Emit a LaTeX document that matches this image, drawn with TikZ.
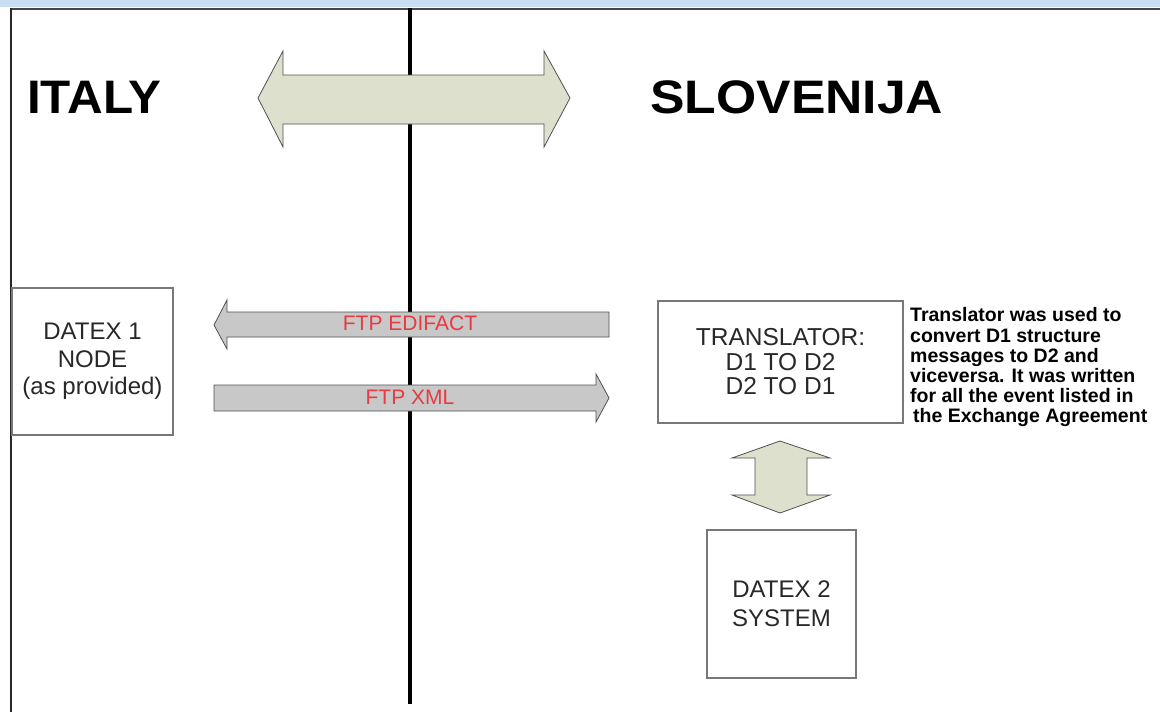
\documentclass[tikz,border=0pt]{standalone}
\usepackage{fontspec}
\setmainfont{Liberation Sans}
\definecolor{bandblue}{RGB}{200,222,242}
\definecolor{headgray}{RGB}{70,70,70}
\definecolor{framegray}{RGB}{40,40,40}
\definecolor{boxgray}{RGB}{120,120,120}
\definecolor{textgray}{RGB}{40,40,40}
\definecolor{greenfill}{RGB}{221,224,204}
\definecolor{ftpfill}{RGB}{200,200,200}
\definecolor{arrowline}{RGB}{80,80,80}
\definecolor{ftpred}{RGB}{232,58,64}
\begin{document}
\begin{tikzpicture}[x=1pt,y=-1pt,
  box/.style={draw=boxgray, line width=1.1pt, fill=white, inner sep=0pt},
  boxtext/.style={text=textgray, align=center, font=\fontsize{23}{25}\selectfont},
  bigarrow/.style={draw=arrowline, line width=0.8pt, fill=greenfill},
  ftparrow/.style={draw=arrowline, line width=0.8pt, fill=ftpfill},
  ftplabel/.style={text=ftpred, font=\fontsize{21}{22}\selectfont, inner sep=0pt},
  title/.style={font=\fontsize{47}{50}\selectfont\bfseries, anchor=base west, inner sep=0pt},
  note/.style={font=\fontsize{19.5}{20.2}\selectfont\bfseries, align=left, anchor=north west, inner sep=0pt, text=black}]
\useasboundingbox (0,0) rectangle (1160,712);
\fill[white] (0,0) rectangle (1160,712);
% header band
\fill[bandblue] (0,0) rectangle (1160,6.5);
\draw[headgray, line width=2pt] (10,8.5) -- (1160,8.5);
\draw[framegray, line width=2pt] (11,8) -- (11,712);
% border line between countries
\coordinate (bt) at (410,8);
\coordinate (bb) at (410,704);
\draw[black, line width=4pt] (bt) -- (bb);
% titles
\node[title, xscale=1.05] (italy) at (27,113) {ITALY};
\node[title, xscale=1.10] (slo) at (650,113) {SLOVENIJA};
% top double arrow
\draw[bigarrow] (258,98) -- (283,51) -- (283,75) -- (544,75) -- (544,51) -- (570,98)
  -- (544,147) -- (544,124) -- (283,124) -- (283,147) -- cycle;
% FTP arrows
\draw[ftparrow] (214,325) -- (227,300) -- (227,312) -- (609,312) -- (609,337)
  -- (227,337) -- (227,349) -- cycle;
\node[ftplabel] (edi) at (410,323) {FTP EDIFACT};
\draw[ftparrow] (214,385) -- (596,385) -- (596,374) -- (609,398) -- (596,422)
  -- (596,411) -- (214,411) -- cycle;
\node[ftplabel] (xml) at (410,397) {FTP XML};
% boxes
\node[box, minimum width=161, minimum height=147] (d1) at (92.5,361.5) {};
\node[boxtext, font=\fontsize{24}{27.5}\selectfont] (d1t) at (d1.center) {DATEX 1\\NODE\\(as provided)};
\node[box, minimum width=245, minimum height=122] (tr) at (780.5,362) {};
\node[boxtext, font=\fontsize{24.5}{24.5}\selectfont] (trt) at (tr.center) {TRANSLATOR:\\D1 TO D2\\D2 TO D1};
\node[box, minimum width=149, minimum height=148] (d2) at (781.5,604) {};
\node[boxtext, font=\fontsize{24}{29}\selectfont] (d2t) at (d2.center) {DATEX 2\\SYSTEM};
% vertical double arrow
\draw[bigarrow] (780,441) -- (830,458) -- (807,458) -- (807,495) -- (830,495) -- (780,513)
  -- (732,495) -- (755,495) -- (755,458) -- (732,458) -- cycle;
% note
\node[note] (nt) at (910,307.5) {Translator was used to\\convert D1 structure\\messages to D2 and\\viceversa. It was written\\for all the event listed in\\\hspace*{3pt}the Exchange Agreement};
\end{tikzpicture}
\end{document}
